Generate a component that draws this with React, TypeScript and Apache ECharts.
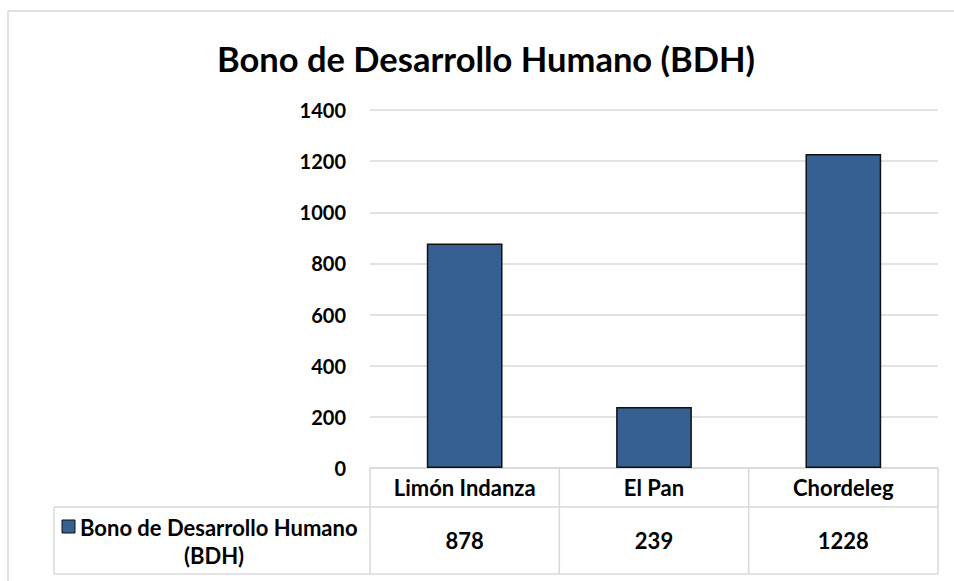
import React, { useEffect, useRef } from "react";
import * as echarts from "echarts";

const categories = ["Limón Indanza", "El Pan", "Chordeleg"];
const values = [878, 239, 1228];
const seriesLine1 = "Bono de Desarrollo Humano";
const seriesLine2 = "(BDH)";
const titleText = "Bono de Desarrollo Humano (BDH)";
const yMin = 0;
const yMax = 1400;
const yStep = 200;

const FONT = "Lato, 'Noto Sans', sans-serif";
const BAR = "#376092";
const GRID = "#d9d9d9";
const FS = 22;

export default function App() {
  const ref = useRef<HTMLDivElement>(null);
  useEffect(() => {
    document.body.style.margin = "0";
    const chart = echarts.init(ref.current!, null, { renderer: "svg" });
    const gridLeft = 370, gridRight = 938, gridTop = 110, gridBottom = 468;
    chart.setOption({
      animation: false,
      title: {
        text: titleText,
        left: 481,
        textAlign: "center",
        top: 36,
        textStyle: { fontFamily: FONT, fontWeight: "bold", fontSize: 34.5, color: "#000" },
      },
      grid: { left: gridLeft, right: 954 - gridRight, top: gridTop, bottom: 581 - gridBottom },
      xAxis: {
        type: "category",
        data: categories,
        axisLine: { show: true, lineStyle: { color: GRID, width: 1.5 } },
        axisTick: { show: false },
        axisLabel: {
          margin: 9,
          fontFamily: FONT, fontWeight: "bold", fontSize: FS, color: "#000", lineHeight: 21,
        },
      },
      yAxis: {
        type: "value",
        min: yMin, max: yMax, interval: yStep,
        axisLine: { show: false },
        axisTick: { show: false },
        splitLine: { lineStyle: { color: GRID, width: 1.5 } },
        axisLabel: {
          margin: 24, fontFamily: FONT, fontWeight: "bold", fontSize: 20, color: "#000",
          formatter: (v: number) => String(v),
        },
      },
      series: [{
        type: "bar",
        name: titleText,
        data: values,
        barWidth: "40%",
        itemStyle: { color: BAR, borderColor: "#111", borderWidth: 1.5 },
      }],
    });

    const centers = categories.map((c) => chart.convertToPixel({ xAxisIndex: 0 }, c) as number);
    const half = (centers.length > 1 ? centers[1] - centers[0] : gridRight - gridLeft) / 2;
    const bounds = [centers[0] - half, ...centers.map((c) => c + half)];
    const rowTop = 507, rowBottom = 574, tableLeft = 54;
    const ls = { stroke: GRID, lineWidth: 1.5 };
    const g: any[] = [];
    g.push({ type: "line", shape: { x1: 8, y1: 11, x2: 954, y2: 11 }, style: ls });
    g.push({ type: "line", shape: { x1: 8, y1: 11, x2: 8, y2: 581 }, style: ls });
    bounds.forEach((x) => g.push({ type: "line", shape: { x1: x, y1: gridBottom, x2: x, y2: rowBottom }, style: ls }));
    g.push({ type: "line", shape: { x1: tableLeft, y1: rowTop, x2: tableLeft, y2: rowBottom }, style: ls });
    g.push({ type: "line", shape: { x1: tableLeft, y1: rowTop, x2: bounds[bounds.length - 1], y2: rowTop }, style: ls });
    g.push({ type: "line", shape: { x1: tableLeft, y1: rowBottom, x2: bounds[bounds.length - 1], y2: rowBottom }, style: ls });
    const rowMid = (rowTop + rowBottom) / 2;
    values.forEach((v, i) => g.push({
      type: "text", x: centers[i], y: rowMid,
      style: { text: String(v), fontFamily: FONT, fontWeight: "bold", fontSize: FS, fill: "#000", align: "center", verticalAlign: "middle" },
    }));
    g.push({ type: "rect", shape: { x: 62, y: 520, width: 13, height: 13 }, style: { fill: BAR, stroke: "#111", lineWidth: 1 } });
    g.push({
      type: "text", x: 80, y: 527,
      style: { text: seriesLine1, fontFamily: FONT, fontWeight: "bold", fontSize: FS, fill: "#000", align: "left", verticalAlign: "middle" },
    });
    g.push({
      type: "text", x: (tableLeft + bounds[0]) / 2 + 2, y: 555,
      style: { text: seriesLine2, fontFamily: FONT, fontWeight: "bold", fontSize: FS, fill: "#000", align: "center", verticalAlign: "middle" },
    });
    chart.setOption({ graphic: g });
    return () => chart.dispose();
  }, []);
  return <div ref={ref} style={{ width: 954, height: 581 }} />;
}
